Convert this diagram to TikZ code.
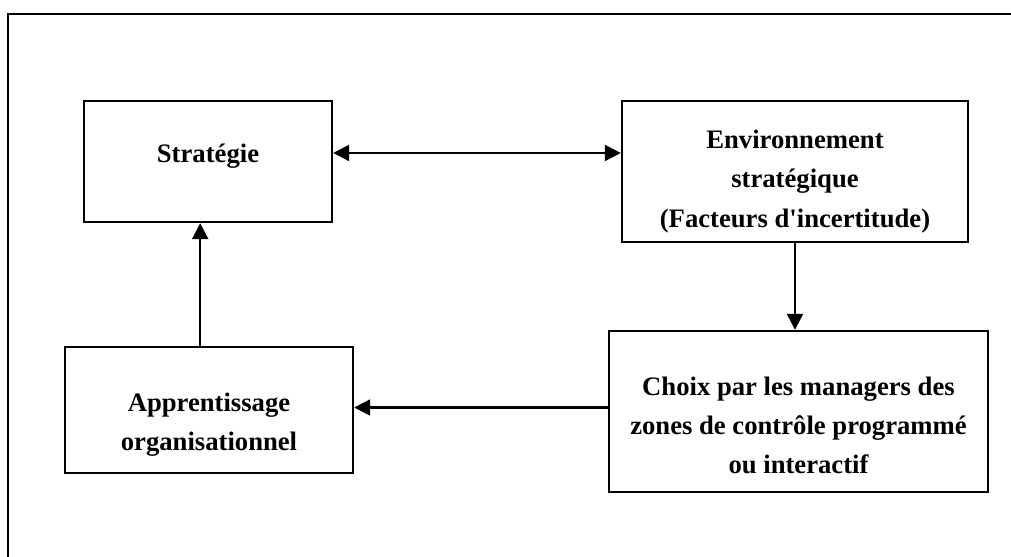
\documentclass[tikz,border=0pt]{standalone}
\usepackage{fontspec}
\setmainfont{Liberation Serif}
\usetikzlibrary{arrows.meta}

\begin{document}
\begin{tikzpicture}
[x=0.75pt,y=-0.75pt,%
  boxDecorate/.style={shape=rectangle,draw,line width=1.8pt},%
  textDecorate/.style={align=center,font=\bfseries\fontsize{20}{29.5}\selectfont},%
  lineDecorate/.style={line width=1.8pt,-{Triangle[length=12pt,width=12pt]}},%
  bothDecorate/.style={line width=1.8pt,{Triangle[length=12pt,width=12pt]}-{Triangle[length=12pt,width=12pt]}}]
\useasboundingbox (0,0) rectangle (1011,557);
%% frame
\draw[line width=1.8pt] (8,557) -- (8,14) -- (1011,14);
%% boxes
\foreach \nodename/\x/\y/\w/\h/\dy/\txt in {%
  strat/208/161.5/248/121/3.75/{Stratégie},
  env/795/171.5/346/141/-7.5/{Environnement\\stratégique\\(Facteurs d\textquotesingle incertitude)},
  choix/798.5/411.5/379/161/-10.5/{Choix par les managers des\\zones de contrôle programmé\\ou interactif},
  app/209/410/288/126/-11/{Apprentissage\\organisationnel}}
{
  \node (\nodename) at (\x,\y) [boxDecorate,minimum width=\w*0.75pt,minimum height=\h*0.75pt,
    label={[textDecorate,yshift=\dy pt]center:\txt}] {};
}
%% arrows
\coordinate (sx) at ([yshift=6.4pt]strat.east);
\coordinate (ax) at ([xshift=-6.6pt]app.north);
\draw[bothDecorate] (sx) -- (sx -| env.west);
\draw[lineDecorate] (env.south) -- (env.south |- choix.north);
\draw[lineDecorate] ([yshift=3pt]choix.west) -- ([yshift=3pt]choix.west -| app.east);
\draw[lineDecorate] (ax) -- (ax |- strat.south);
\end{tikzpicture}
\end{document}
